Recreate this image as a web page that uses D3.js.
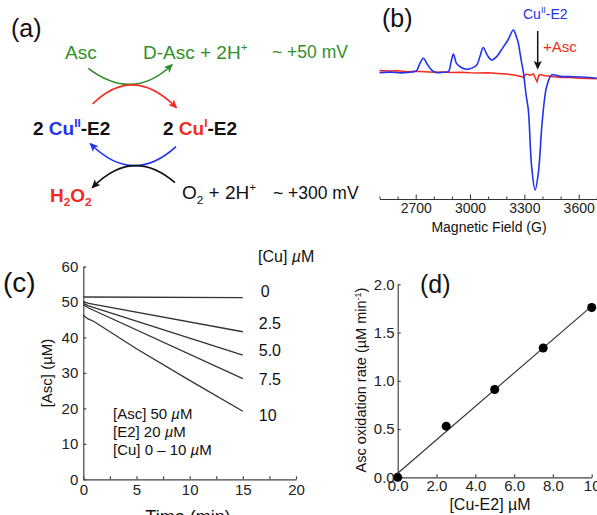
<!DOCTYPE html>
<html>
<head>
<meta charset="utf-8">
<script src="https://cdn.jsdelivr.net/npm/d3@7"></script>
<style>
body { margin: 0; background: #fff; }
svg { display: block; font-family: "Liberation Sans", Arial, Helvetica, sans-serif; }
</style>
</head>
<body>
<div id="fig"></div>
<script>
// (b) EPR spectra, field in G, signal in arbitrary units
var eprBlueField = [2500, 2560, 2620, 2680, 2705, 2720, 2742, 2765, 2788, 2816, 2850, 2880, 2895, 2908, 2925, 2945, 2981, 3010, 3037, 3055, 3073, 3095, 3119, 3147, 3180, 3210, 3239, 3255, 3267, 3282, 3294, 3310, 3322, 3340, 3359, 3377, 3396, 3410, 3423, 3451, 3500, 3552, 3620, 3700];
var eprBlueSignal = [-0.8, -0.4, -1, -0.3, 1, 6, 11.3, 6, 1.4, -0.8, -0.5, 0, 8, 15, 7, 4.2, 2, 3, 5.6, 13, 20.5, 14, 9.9, 12.7, 20, 27, 35.2, 30, 23.9, 10, 0, -20, -32.4, -80, -100, -86, -46.8, -25, -12.7, -2.8, -4, -4.2, -4.5, -5.6];
var eprRedField = [2500, 2550, 2600, 2650, 2700, 2750, 2800, 2850, 2900, 2950, 3000, 3050, 3100, 3150, 3200, 3250, 3280, 3294, 3310, 3330, 3350, 3362, 3370, 3380, 3392, 3400, 3450, 3500, 3550, 3600, 3700];
var eprRedSignal = [1, 0.5, 0.8, 0, 0.3, 0, -0.5, -0.3, -0.8, -0.5, -1, -1.2, -1, -1.5, -2, -3, -4, -4.8, -2, -3, -2, -6, -8.5, -3, -2.5, -3, -4, -5, -5, -5.5, -6];
var eprMajorTicks = [2700, 3000, 3300, 3600];

// (c) ascorbate consumption
var cuLevels = ["0", "2.5", "5.0", "7.5", "10"];
var ascTime = [[0, 15], [0, 0.5, 15], [0, 0.5, 15], [0, 0.5, 15], [0, 0.4, 1, 5, 10, 15]];
var ascConc = [[51.4, 51.2], [50.1, 49.6, 41.6], [49.6, 48.9, 35.0], [49.2, 48.3, 28.4], [46.3, 45.3, 44.5, 36.8, 27.9, 19.2]];
var cuLabelY = [51.5, 42.5, 34.8, 26.5, 16.5];
var conditions = ["[Asc] 50 ", "[E2] 20 ", "[Cu] 0 \u2013 10 "];

// (d) oxidation rate
var cuE2 = [0, 2.5, 5, 7.5, 10];
var oxRate = [0.0, 0.53, 0.91, 1.34, 1.76];
var rateTickLabels = ["0.0", "2.0", "4.0", "6.0", "8.0", "10"];

var green = "#2f8f2a", blue = "#2233ee", red = "#f52a1e";

var svg = d3.select("#fig").append("svg")
    .attr("width", 597)
    .attr("height", 515);

var defs = svg.append("defs");
[["green", green], ["red", red], ["blue", blue], ["black", "#111"]].forEach(function(m) {
    defs.append("marker")
        .attr("id", "arr-" + m[0])
        .attr("viewBox", "0 0 10 10")
        .attr("refX", 8).attr("refY", 5)
        .attr("markerWidth", 9).attr("markerHeight", 9)
        .attr("markerUnits", "userSpaceOnUse")
        .attr("orient", "auto")
        .append("path")
        .attr("d", "M0,0.5 L10,5 L0,9.5 L2.5,5 Z")
        .attr("fill", m[1]);
});

function panelLabel(txt, x, y, size) {
    svg.append("text").attr("x", x).attr("y", y)
        .attr("font-size", size).attr("fill", "#111").text(txt);
}

// rich text: parts = [text, color, shift(0|"sup"|"sub")]
function richText(g, x, y, size, weight, parts) {
    var t = g.append("text").attr("x", x).attr("y", y)
        .attr("font-size", size).attr("font-weight", weight);
    var shift = 0;
    parts.forEach(function(p) {
        var target = p[2] === "sup" ? -size * 0.42 : p[2] === "sub" ? size * 0.25 : 0;
        t.append("tspan")
            .attr("dy", target - shift)
            .attr("font-size", p[2] ? size * 0.62 : size)
            .attr("fill", p[1])
            .text(p[0]);
        shift = target;
    });
    return t;
}

// ---------- (a) reaction scheme ----------
var ga = svg.append("g");
panelLabel("(a)", 11, 37, 25);

var arcs = [
    {d: "M88.3,68.3 Q133,102 171.7,65", c: green, m: "green"},
    {d: "M92.7,104 Q133,64.3 176,107.3", c: red, m: "red"},
    {d: "M176,146.7 Q133,186 90.7,144", c: blue, m: "blue"},
    {d: "M175,182.7 Q133,146.4 92.7,187.3", c: "#111", m: "black"}
];
ga.selectAll("path.arc").data(arcs).enter().append("path")
    .attr("class", "arc")
    .attr("d", function(d) { return d.d; })
    .attr("fill", "none")
    .attr("stroke", function(d) { return d.c; })
    .attr("stroke-width", 1.6)
    .attr("marker-end", function(d) { return "url(#arr-" + d.m + ")"; });

richText(ga, 65, 58.5, 19, "normal", [["Asc", green]]);
richText(ga, 143, 58.5, 19, "normal", [["D-Asc + 2H", green], ["+", green, "sup"]]);
richText(ga, 272, 58, 17.5, "normal", [["~ +50 mV", green]]);
richText(ga, 33, 134.5, 19, "bold", [["2 ", "#111"], ["Cu", blue], ["II", blue, "sup"], ["-E2", "#111"]]);
richText(ga, 163, 134.5, 19, "bold", [["2 ", "#111"], ["Cu", red], ["I", red, "sup"], ["-E2", "#111"]]);
richText(ga, 50, 201.5, 19, "bold", [["H", red], ["2", red, "sub"], ["O", red], ["2", red, "sub"]]);
richText(ga, 182, 199, 19, "normal", [["O", "#111"], ["2", "#111", "sub"], [" + 2H", "#111"], ["+", "#111", "sup"]]);
richText(ga, 273, 199, 17.5, "normal", [["~ +300 mV", "#111"]]);

// ---------- (b) EPR ----------
var gb = svg.append("g");
var xb = d3.scaleLinear().domain([2500, 3700]).range([379.5, 596.8]);
var yb = d3.scaleLinear().domain([-110, 60]).range([201.8, 0.7]);

var axB = gb.append("g").attr("transform", "translate(0,199)")
    .call(d3.axisBottom(xb)
        .tickValues(d3.range(2500, 3701, 100))
        .tickSizeInner(-4.5).tickSizeOuter(0).tickPadding(4)
        .tickFormat(function(d) { return eprMajorTicks.indexOf(d) >= 0 ? d : ""; }));
axB.selectAll(".tick line").filter(function(d) { return eprMajorTicks.indexOf(d) < 0; }).attr("y2", -2.5);
axB.selectAll(".tick text").attr("font-size", 14).attr("font-family", null).attr("fill", "#222");
axB.selectAll("line, path").attr("stroke", "#333");

gb.append("text").attr("x", 489).attr("y", 232).attr("text-anchor", "middle")
    .attr("font-size", 14).attr("fill", "#111").text("Magnetic Field (G)");

var lineB = d3.line().x(function(d) { return xb(d[0]); }).y(function(d) { return yb(d[1]); });
gb.append("path").datum(d3.zip(eprRedField, eprRedSignal))
    .attr("d", lineB).attr("fill", "none").attr("stroke", red).attr("stroke-width", 1.5);
gb.append("path").datum(d3.zip(eprBlueField, eprBlueSignal))
    .attr("d", lineB.curve(d3.curveCatmullRom.alpha(0.5)))
    .attr("fill", "none").attr("stroke", blue).attr("stroke-width", 1.6);

panelLabel("(b)", 382, 27, 25);
richText(gb, 523, 18.5, 14, "normal", [["Cu", blue], ["II", blue, "sup"], ["-E2", blue]]);
gb.append("line").attr("x1", 537.7).attr("x2", 537.7).attr("y1", 31).attr("y2", 68)
    .attr("stroke", "#111").attr("stroke-width", 1.5).attr("marker-end", "url(#arr-black)");
gb.append("text").attr("x", 543).attr("y", 52).attr("font-size", 15).attr("fill", red).text("+Asc");

// ---------- (c) kinetics ----------
var gc = svg.append("g");
var xc = d3.scaleLinear().domain([0, 20]).range([83.3, 296]);
var yc = d3.scaleLinear().domain([0, 60]).range([479.3, 266.5]);

var axCx = gc.append("g").attr("transform", "translate(0," + yc(0) + ")")
    .call(d3.axisBottom(xc).tickValues(d3.range(0, 20.1, 2.5))
        .tickSizeInner(-3).tickSizeOuter(0).tickPadding(5)
        .tickFormat(function(d) { return d % 5 === 0 ? d : ""; }));
var axCy = gc.append("g").attr("transform", "translate(" + xc(0) + ",0)")
    .call(d3.axisLeft(yc).tickValues(d3.range(0, 61, 10))
        .tickSizeInner(-3).tickSizeOuter(0).tickPadding(5));
[axCx, axCy].forEach(function(a) {
    a.selectAll("text").attr("font-size", 15).attr("font-family", null).attr("fill", "#222");
    a.selectAll("line, path").attr("stroke", "#444").attr("stroke-width", 1.2);
});

var lineC = d3.line().x(function(d) { return xc(d[0]); }).y(function(d) { return yc(d[1]); });
gc.selectAll("path.trace").data(ascTime.map(function(t, i) { return d3.zip(t, ascConc[i]); }))
    .enter().append("path").attr("class", "trace")
    .attr("d", lineC).attr("fill", "none").attr("stroke", "#333").attr("stroke-width", 1.3);

gc.selectAll("text.cu").data(cuLevels).enter().append("text")
    .attr("class", "cu")
    .attr("x", function(d) { return xc(16.5) + (d === "0" ? 2 : 0); })
    .attr("y", function(d, i) { return yc(cuLabelY[i]); })
    .attr("font-size", 16).attr("fill", "#111").text(function(d) { return d; });

var cuHead = gc.append("text").attr("x", 258).attr("y", 262).attr("font-size", 16).attr("fill", "#111");
cuHead.append("tspan").text("[Cu] ");
cuHead.append("tspan").attr("font-style", "italic").text("\u00b5");
cuHead.append("tspan").text("M");

conditions.forEach(function(c, i) {
    var t = gc.append("text").attr("x", 113).attr("y", 418.5 + i * 18.3)
        .attr("font-size", 15).attr("fill", "#111");
    t.append("tspan").text(c);
    t.append("tspan").attr("font-style", "italic").text("\u00b5");
    t.append("tspan").text("M");
});

gc.append("text").attr("transform", "translate(52,373) rotate(-90)")
    .attr("text-anchor", "middle").attr("font-size", 15).attr("fill", "#111")
    .text("[Asc] (\u00b5M)");
gc.append("text").attr("x", 188).attr("y", 523).attr("text-anchor", "middle")
    .attr("font-size", 18).attr("fill", "#111").text("Time (min)");
panelLabel("(c)", 3, 292, 28);

// ---------- (d) rate vs Cu ----------
var gd = svg.append("g");
var xd = d3.scaleLinear().domain([0, 10]).range([397.7, 591.7]);
var yd = d3.scaleLinear().domain([0, 2]).range([477.3, 284.3]);

var axDx = gd.append("g").attr("transform", "translate(0," + yd(0) + ")")
    .call(d3.axisBottom(xd).tickValues(d3.range(0, 10.1, 2))
        .tickSizeInner(-3).tickSizeOuter(0).tickPadding(3)
        .tickFormat(function(d, i) { return rateTickLabels[i]; }));
var axDy = gd.append("g").attr("transform", "translate(" + xd(0) + ",0)")
    .call(d3.axisLeft(yd).tickValues(d3.range(0, 2.01, 0.5))
        .tickSizeInner(-3).tickSizeOuter(0).tickPadding(3)
        .tickFormat(d3.format(".1f")));
[axDx, axDy].forEach(function(a) {
    a.selectAll("text").attr("font-size", 15).attr("font-family", null).attr("fill", "#222");
    a.selectAll("line, path").attr("stroke", "#444").attr("stroke-width", 1.2);
});

// least-squares line through the points
var mx = d3.mean(cuE2), my = d3.mean(oxRate);
var slope = d3.sum(cuE2, function(x, i) { return (x - mx) * (oxRate[i] - my); }) /
    d3.sum(cuE2, function(x) { return (x - mx) * (x - mx); });
var icpt = my - slope * mx;
gd.append("line")
    .attr("x1", xd(0)).attr("y1", yd(icpt))
    .attr("x2", xd(10)).attr("y2", yd(icpt + slope * 10))
    .attr("stroke", "#333").attr("stroke-width", 1.2);

gd.selectAll("circle").data(cuE2).enter().append("circle")
    .attr("cx", function(d) { return xd(d); })
    .attr("cy", function(d, i) { return yd(oxRate[i]); })
    .attr("r", 4.5).attr("fill", "#000");

var yl = gd.append("text").attr("transform", "translate(366,380) rotate(-90)")
    .attr("text-anchor", "middle").attr("font-size", 14.5).attr("fill", "#111");
yl.append("tspan").text("Asc oxidation rate (\u00b5M min");
yl.append("tspan").attr("dy", -5).attr("font-size", 9).text("-1");
yl.append("tspan").attr("dy", 5).text(")");

gd.append("text").attr("x", 490).attr("y", 510).attr("text-anchor", "middle")
    .attr("font-size", 16).attr("fill", "#111").text("[Cu-E2] \u00b5M");
panelLabel("(d)", 420, 293, 25);
</script>
</body>
</html>
